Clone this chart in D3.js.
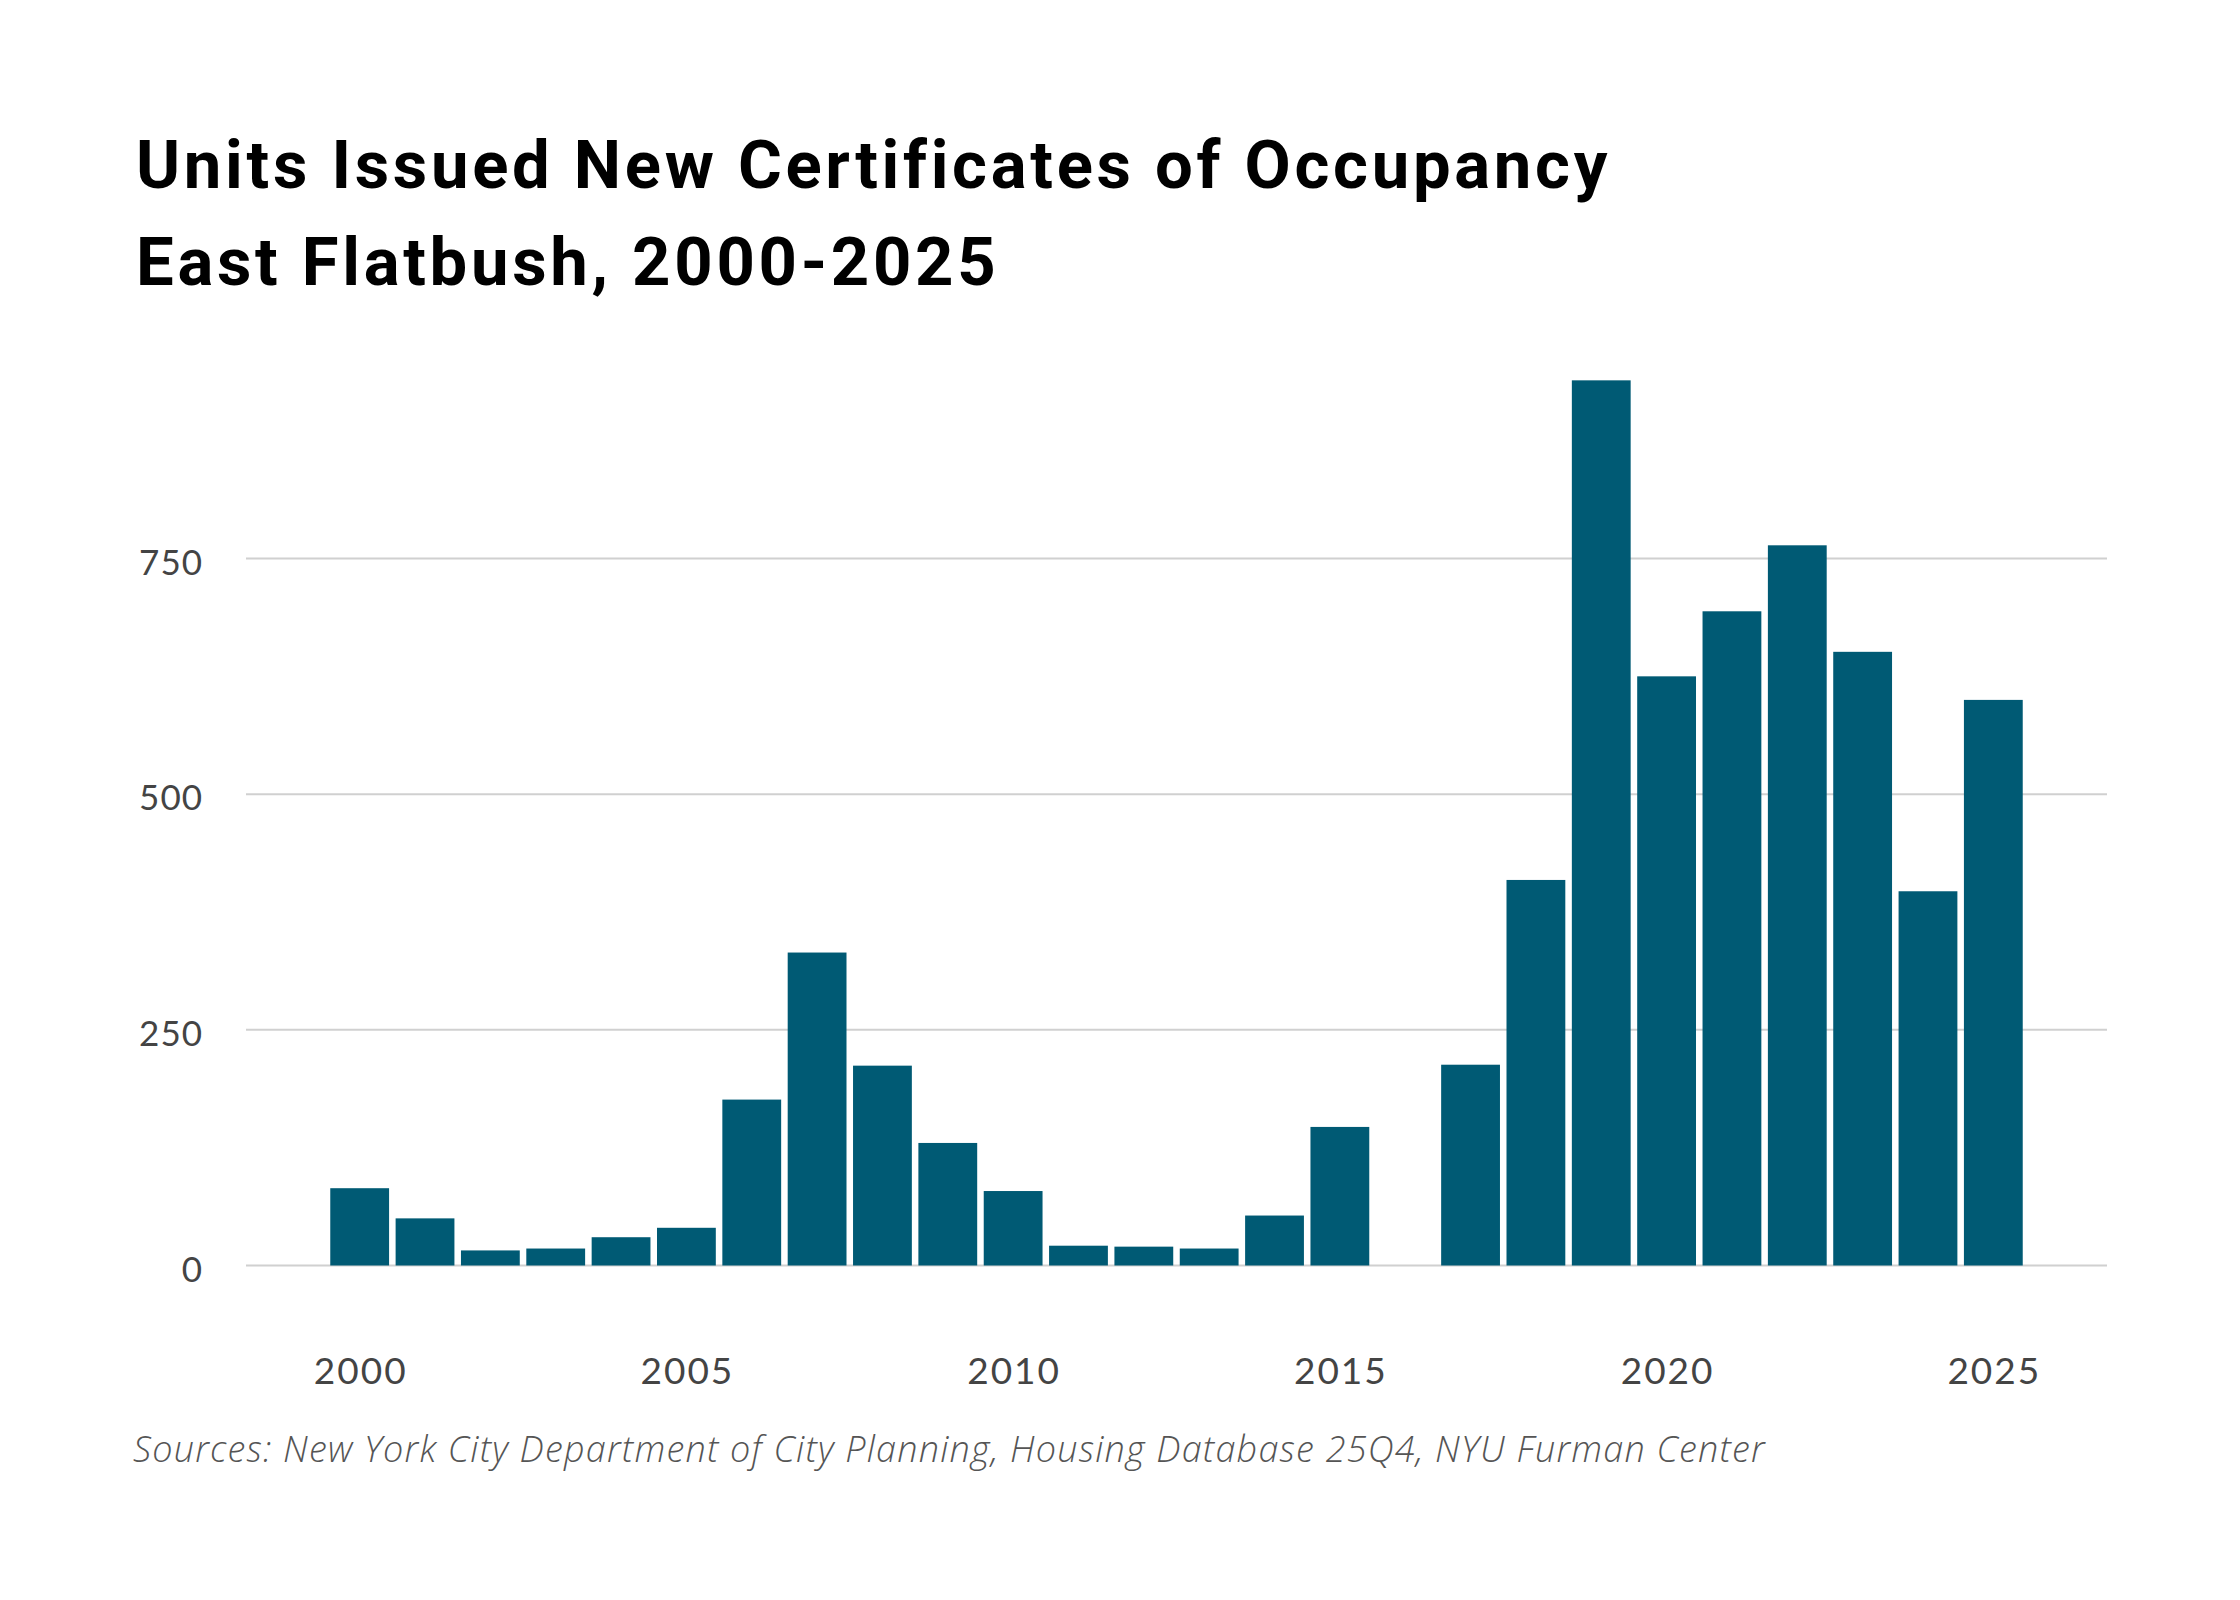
<!DOCTYPE html>
<html>
<head>
<meta charset="utf-8">
<script src="https://cdn.jsdelivr.net/npm/d3@7"></script>
<style>
  body { margin: 0; background: #fff; }
  svg { display: block; }
</style>
</head>
<body>
<svg id="chart" width="2240" height="1600"></svg>
<script>
// Data
const years = d3.range(2000, 2026);
const units = [82, 50, 16, 18, 30, 40, 176, 332, 212, 130, 79, 21, 20, 18, 53, 147,
               0, 213, 409, 939, 625, 694, 764, 651, 397, 600];
const yTicks = [0, 250, 500, 750];
const xTicks = [2000, 2005, 2010, 2015, 2020, 2025];

const titleLines = ["Units Issued New Certificates of Occupancy", "East Flatbush, 2000-2025"];
const sourceText = "Sources: New York City Department of City Planning, Housing Database 25Q4, NYU Furman Center";

function drawChart() {
  const svg = d3.select("#chart");
  const barColor = "#005a74";
  const gridColor = "#d0d0d0";

  const x = d3.scaleBand()
    .domain(years)
    .range([327, 2026])
    .paddingInner(0.1)
    .paddingOuter(0.05);

  const y = d3.scaleLinear()
    .domain([0, 750])
    .range([1265.5, 558.5]);

  // Title
  svg.append("g")
    .selectAll("text")
    .data(titleLines)
    .join("text")
    .attr("x", 136)
    .attr("y", (d, i) => 188 + i * 97)
    .attr("font-family", "Roboto, sans-serif")
    .attr("font-weight", 700)
    .attr("font-size", 67)
    .attr("letter-spacing", 3.7)
    .attr("fill", "#000")
    .text(d => d);

  // Gridlines
  svg.append("g")
    .selectAll("line")
    .data(yTicks)
    .join("line")
    .attr("x1", 246)
    .attr("x2", 2107)
    .attr("y1", d => y(d))
    .attr("y2", d => y(d))
    .attr("stroke", gridColor)
    .attr("stroke-width", 2);

  // Bars
  svg.append("g")
    .selectAll("rect")
    .data(years.map((yr, i) => ({ year: yr, value: units[i] })).filter(d => d.value > 0))
    .join("rect")
    .attr("x", d => x(d.year))
    .attr("width", x.bandwidth())
    .attr("y", d => y(d.value))
    .attr("height", d => y(0) - y(d.value))
    .attr("fill", barColor);

  // Y axis labels
  svg.append("g")
    .selectAll("text")
    .data(yTicks)
    .join("text")
    .attr("x", 203)
    .attr("y", d => y(d) + 16)
    .attr("text-anchor", "end")
    .attr("font-family", "Lato, sans-serif")
    .attr("font-size", 35)
    .attr("letter-spacing", 1)
    .attr("fill", "#444")
    .text(d => d);

  // X axis labels (nudged by half the trailing letter-spacing)
  svg.append("g")
    .selectAll("text")
    .data(xTicks)
    .join("text")
    .attr("x", d => x(d) + x.bandwidth() / 2 + 1)
    .attr("y", 1384)
    .attr("text-anchor", "middle")
    .attr("font-family", "Lato, sans-serif")
    .attr("font-size", 37)
    .attr("letter-spacing", 2)
    .attr("fill", "#444")
    .text(d => d);

  // Source note
  svg.append("text")
    .attr("x", 133)
    .attr("y", 1462)
    .attr("font-family", "'Open Sans', sans-serif")
    .attr("font-style", "italic")
    .attr("font-weight", 300)
    .attr("font-size", 36)
    .attr("letter-spacing", 1.2)
    .attr("fill", "#555")
    .text(sourceText);
}

drawChart();
</script>
</body>
</html>
